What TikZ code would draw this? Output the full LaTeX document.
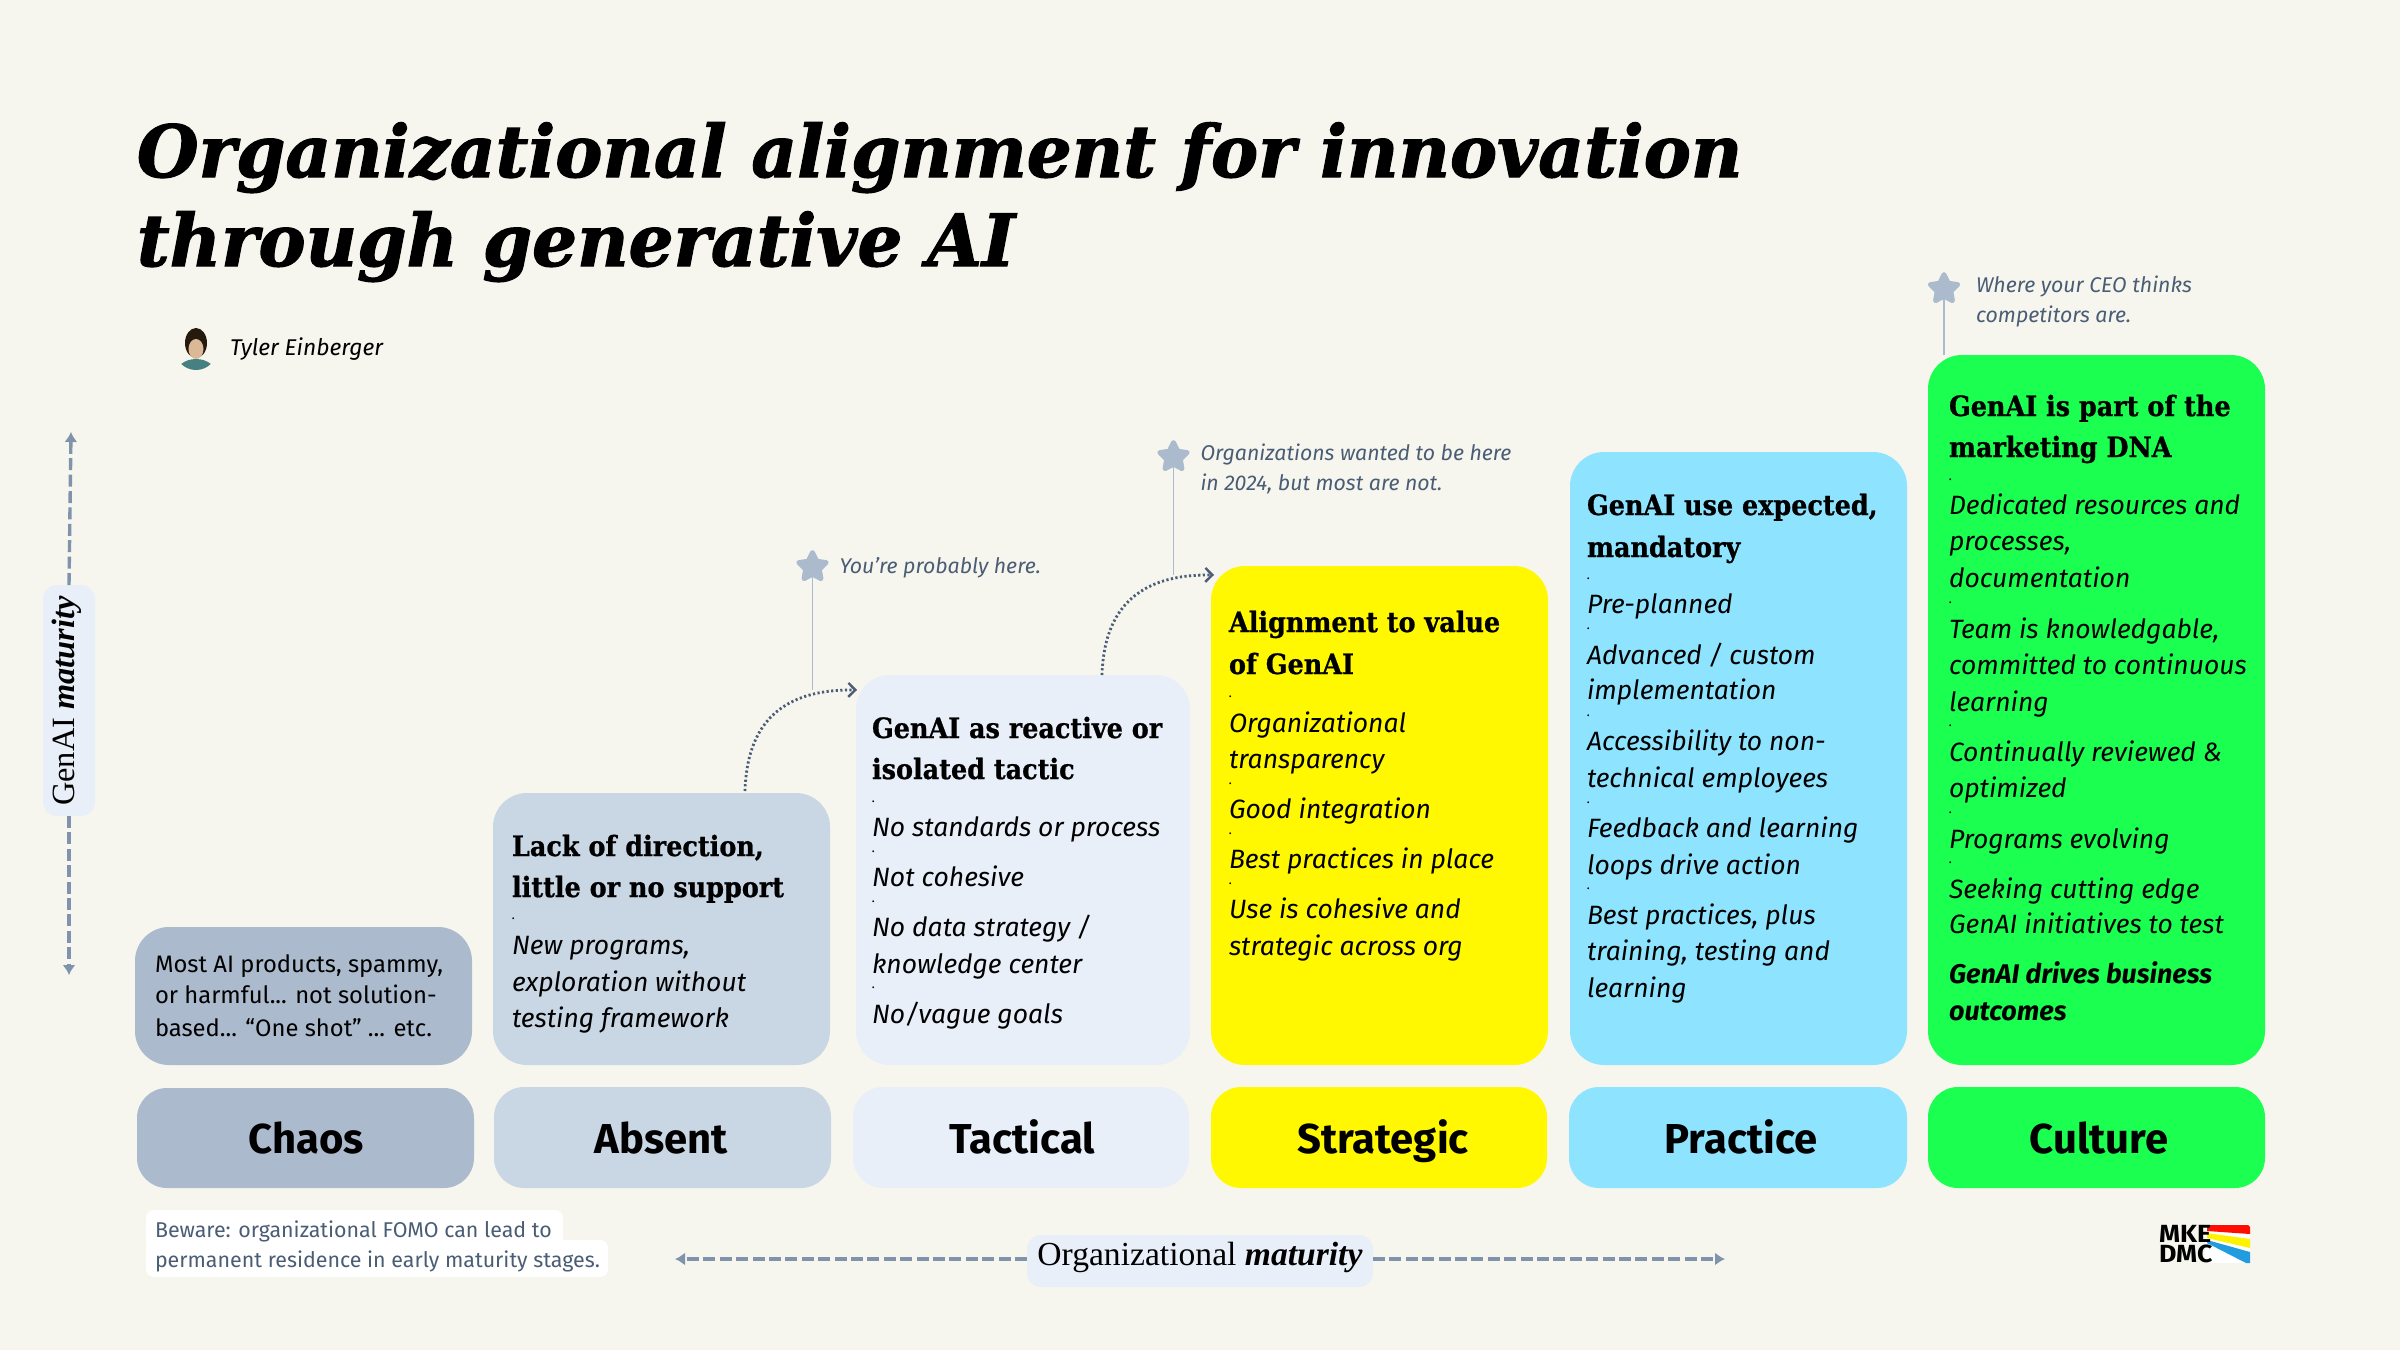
\documentclass[tikz,border=0pt]{standalone}
\usepackage{fontspec}
\usetikzlibrary{arrows.meta,shapes.geometric,calc}
\setmainfont{Liberation Serif}
\newfontfamily\bodyfam{Fira Sans}
\newfontfamily\headfam{DejaVu Serif}[FakeStretch=0.91,BoldFeatures={FakeBold=0.8}]
\newfontfamily\titlefam{DejaVu Serif}[FakeStretch=0.983,BoldItalicFeatures={FakeBold=1.6}]
\newfontfamily\serfam{Liberation Serif}
\newfontfamily\logofam{Fira Sans}[FakeStretch=1.08]
\definecolor{bg}{HTML}{F6F6EE}
\definecolor{cchaos}{HTML}{ABBACC}
\definecolor{cabsent}{HTML}{C9D6E4}
\definecolor{ctact}{HTML}{E8EFF9}
\definecolor{cstrat}{HTML}{FFF800}
\definecolor{cprac}{HTML}{8EE4FF}
\definecolor{ccult}{HTML}{1AFF50}
\definecolor{slate}{HTML}{4A5D75}
\definecolor{axisc}{HTML}{7F93AB}
\tikzset{
  x=0.5pt,y=-0.5pt,
  stepbox/.style={draw=none,rounded corners=17pt,anchor=north west,inner sep=0,outer sep=0},
  labbox/.style={draw=none,rounded corners=15pt,anchor=north west,inner sep=0,outer sep=0},
  txt/.style={anchor=base west,inner sep=0,outer sep=0},
  body/.style={txt,font=\bodyfam\itshape\fontsize{13.25pt}{16pt}\selectfont},
  bodyb/.style={txt,font=\bodyfam\bfseries\itshape\fontsize{13.5pt}{16pt}\selectfont},
  head/.style={txt,font=\headfam\bfseries\fontsize{14pt}{16pt}\selectfont},
  plain/.style={txt,font=\bodyfam\fontsize{11.9pt}{15pt}\selectfont},
  note/.style={txt,text=slate,font=\bodyfam\itshape\fontsize{10.65pt}{13pt}\selectfont},
  beware/.style={txt,text=slate,font=\bodyfam\fontsize{10.7pt}{13pt}\selectfont},
  tinydot/.style={txt,font=\bodyfam\bfseries\fontsize{5pt}{6pt}\selectfont},
  stage/.style={anchor=base,inner sep=0,outer sep=0,font=\bodyfam\bfseries\fontsize{20.9pt}{24pt}\selectfont},
  ttl/.style={txt,font=\titlefam\bfseries\itshape\fontsize{36pt}{40pt}\selectfont},
  mark5/.style={star,star points=5,star point ratio=2,fill=cchaos,draw=cchaos,line width=2.4pt,line join=round,minimum size=14.5pt,inner sep=0},
  stem/.style={draw=cchaos,line width=0.9pt},
  axisline/.style={draw=axisc,line width=1.7pt,dash pattern=on 6pt off 2.2pt,-{Latex[length=5pt,width=6.5pt]}},
  hop/.style={draw=slate,line width=1.4pt,dash pattern=on 1.1pt off 1.2pt,-{Straight Barb[length=3.5pt,width=7pt,line width=1.2pt]}},
  axlab/.style={fill=ctact,rounded corners=7pt,inner sep=0,outer sep=0},
}
\newcommand\lns[4]{\foreach \yy/\ltxt [count=\ii] in {#4} {\node[#2] (#1\ii) at (#3,\yy) {\ltxt};}}
\newcommand\dts[3]{\foreach \yy [count=\ii] in {#3} {\node[tinydot] (#1d\ii) at (#2,\yy) {.};}}
\begin{document}
\begin{tikzpicture}
\useasboundingbox[fill=bg] (0,0) rectangle (2400,1350);
% title
\lns{title}{ttl}{137}{177/{Organizational alignment for innovation},266/{through generative AI}}
% author avatar
\begin{scope}
\clip (196,349) circle[radius=21];
\fill[black!80!brown] (196,343) ellipse[x radius=11,y radius=15];
\fill[teal!45!gray] (196,376) ellipse[x radius=21,y radius=17];
\fill[brown!55!white] (196,349) ellipse[x radius=7.5,y radius=10];
\end{scope}
\node[txt,font=\bodyfam\itshape\fontsize{11.4pt}{13pt}\selectfont] (author) at (230,355) {Tyler Einberger};
% step boxes
\node[stepbox,fill=cchaos,minimum width=168.5pt,minimum height=69pt] (bchaos) at (135,927) {};
\node[stepbox,fill=cabsent,minimum width=168.5pt,minimum height=136pt] (babsent) at (493,793) {};
\node[stepbox,fill=ctact,minimum width=167pt,minimum height=195pt] (btact) at (856,675) {};
\node[stepbox,fill=cstrat,minimum width=168.5pt,minimum height=249.5pt] (bstrat) at (1211,566) {};
\node[stepbox,fill=cprac,minimum width=168.5pt,minimum height=306.5pt] (bprac) at (1570,452) {};
\node[stepbox,fill=ccult,minimum width=168.5pt,minimum height=355pt] (bcult) at (1928,355) {};
% stage labels
\node[labbox,fill=cchaos,minimum width=168.5pt,minimum height=50pt] (lchaos) at (137,1088) {};
\node[labbox,fill=cabsent,minimum width=168.5pt,minimum height=50.5pt] (labsent) at (494,1087) {};
\node[labbox,fill=ctact,minimum width=168pt,minimum height=50.5pt] (ltact) at (853,1087) {};
\node[labbox,fill=cstrat,minimum width=168pt,minimum height=50.5pt] (lstrat) at (1211,1087) {};
\node[labbox,fill=cprac,minimum width=169pt,minimum height=50.5pt] (lprac) at (1569,1087) {};
\node[labbox,fill=ccult,minimum width=168.5pt,minimum height=50.5pt] (lcult) at (1928,1087) {};
\node[stage] (schaos) at (306,1153) {Chaos};
\node[stage] (sabsent) at (661,1153) {Absent};
\node[stage] (stact) at (1022,1153) {Tactical};
\node[stage] (sstrat) at (1383,1153) {Strategic};
\node[stage] (sprac) at (1741,1153) {Practice};
\node[stage] (scult) at (2099,1153) {Culture};
% chaos text
\lns{ct}{plain}{155}{972/{Most AI products, spammy,},1003/{or harmful... not solution-},1036/{based... “One shot” ... etc.}}
% absent
\lns{ah}{head}{512}{856/{Lack of direction,},897/{little or no support}}
\dts{a}{512}{919}
\lns{ab}{body}{512}{954/{New programs,},991/{exploration without},1027/{testing framework}}
% tactical
\lns{th}{head}{872}{738/{GenAI as reactive or},779/{isolated tactic}}
\dts{t}{872}{802,852,902,988}
\lns{tb}{body}{872}{836/{No standards or process},886/{Not cohesive},936/{No data strategy /},973/{knowledge center},1023/{No/vague goals}}
% strategic
\lns{sh}{head}{1229}{632/{Alignment to value},674/{of GenAI}}
\dts{s}{1229}{697,784,834,884}
\lns{sb}{body}{1229}{732/{Organizational},768/{transparency},818/{Good integration},868/{Best practices in place},918/{Use is cohesive and},955/{strategic across org}}
% practice
\lns{ph}{head}{1587}{515/{GenAI use expected,},557/{mandatory}}
\dts{p}{1587}{579,629,716,803,889}
\lns{pb}{body}{1587}{613/{Pre-planned},664/{Advanced / custom},699/{implementation},750/{Accessibility to non-},787/{technical employees},837/{Feedback and learning},874/{loops drive action},924/{Best practices, plus},960/{training, testing and},997/{learning}}
% culture
\lns{ch}{head}{1949}{416/{GenAI is part of the},457/{marketing DNA}}
\dts{c}{1949}{480,603,726,813,863}
\lns{cb}{body}{1949}{514/{Dedicated resources and},550/{processes,},587/{documentation},638/{Team is knowledgable,},674/{committed to continuous},711/{learning},761/{Continually reviewed \&},797/{optimized},848/{Programs evolving},898/{Seeking cutting edge},933/{GenAI initiatives to test}}
\lns{cx}{bodyb}{1949}{983/{GenAI drives business},1020/{outcomes}}
% stars and notes
\coordinate (cone) at (812.5,690);
\coordinate (ctwo) at (1173.5,575);
\coordinate (cthree) at (1944,355);
\draw[stem] (812.5,575) -- (cone);
\draw[stem] (1173.5,460) -- (ctwo);
\draw[stem] (1944,292) -- (cthree);
\node[mark5] (star1) at (812.5,567) {};
\node[mark5] (star2) at (1173.5,457) {};
\node[mark5] (star3) at (1944,289) {};
\node[note] (n1) at (839.5,573) {You’re probably here.};
\lns{n2}{note}{1200.5}{460/{Organizations wanted to be here},490/{in 2024, but most are not.}}
\lns{n3}{note}{1976}{292/{Where your CEO thinks},322/{competitors are.}}
% dotted hops
\coordinate (hop1a) at (745,791);
\coordinate (hop1b) at (857,690);
\coordinate (hop2a) at (1102,675);
\coordinate (hop2b) at (1214,575);
\draw[hop] (hop1a) .. controls (747,725) and (780,689) .. (hop1b);
\draw[hop] (hop2a) .. controls (1104,610) and (1137,574) .. (hop2b);
% axes
\node[axlab,minimum width=26pt,minimum height=115.5pt] (glabel) at (69,700.5) {};
\node[inner sep=0,outer sep=0,rotate=90,anchor=base,font=\serfam\fontsize{16.2pt}{18pt}\selectfont] (gtext) at (74,701) {GenAI \textbf{\textit{maturity}}};
\coordinate (vt) at (71,432);
\coordinate (vb) at (69,975);
\draw[axisline] (glabel.north) -- (vt);
\draw[axisline] (glabel.south) -- (vb);
\node[axlab,minimum width=173pt,minimum height=26pt] (hlabel) at (1200,1261) {};
\node[inner sep=0,outer sep=0,anchor=base,font=\serfam\fontsize{16.8pt}{18pt}\selectfont] (htext) at (1200,1265) {Organizational \textbf{\textit{maturity}}};
\coordinate (hl) at (675,1259);
\coordinate (hr) at (1725,1259);
\draw[axisline] (hlabel.west |- hl) -- (hl);
\draw[axisline] (hlabel.east |- hr) -- (hr);
% beware
\fill[white,rounded corners=4pt] (146,1210) rectangle (563,1250);
\fill[white,rounded corners=4pt] (146,1240) rectangle (608,1277);
\lns{bw}{beware}{155}{1237/{Beware: organizational FOMO can lead to},1267/{permanent residence in early maturity stages.}}
% logo
\fill[white] (2205,1224) rectangle (2250,1263);
\fill[red!90!orange] (2207,1225) -- (2248,1225) -- (2250,1227) -- (2250,1234) -- (2207,1231) -- cycle;
\fill[yellow] (2207,1233) -- (2250,1239) -- (2250,1248) -- (2207,1238) -- cycle;
\fill[cyan!80!blue!90!white] (2207,1240) -- (2250,1252) -- (2250,1263) -- (2246,1263) -- (2207,1243) -- cycle;
\node[inner sep=0,outer sep=0,anchor=south west,align=left,font=\logofam\bfseries\fontsize{12.4pt}{8.8pt}\selectfont] (logotext) at (2159,1263) {MKE\\DMC};
\end{tikzpicture}
\end{document}
